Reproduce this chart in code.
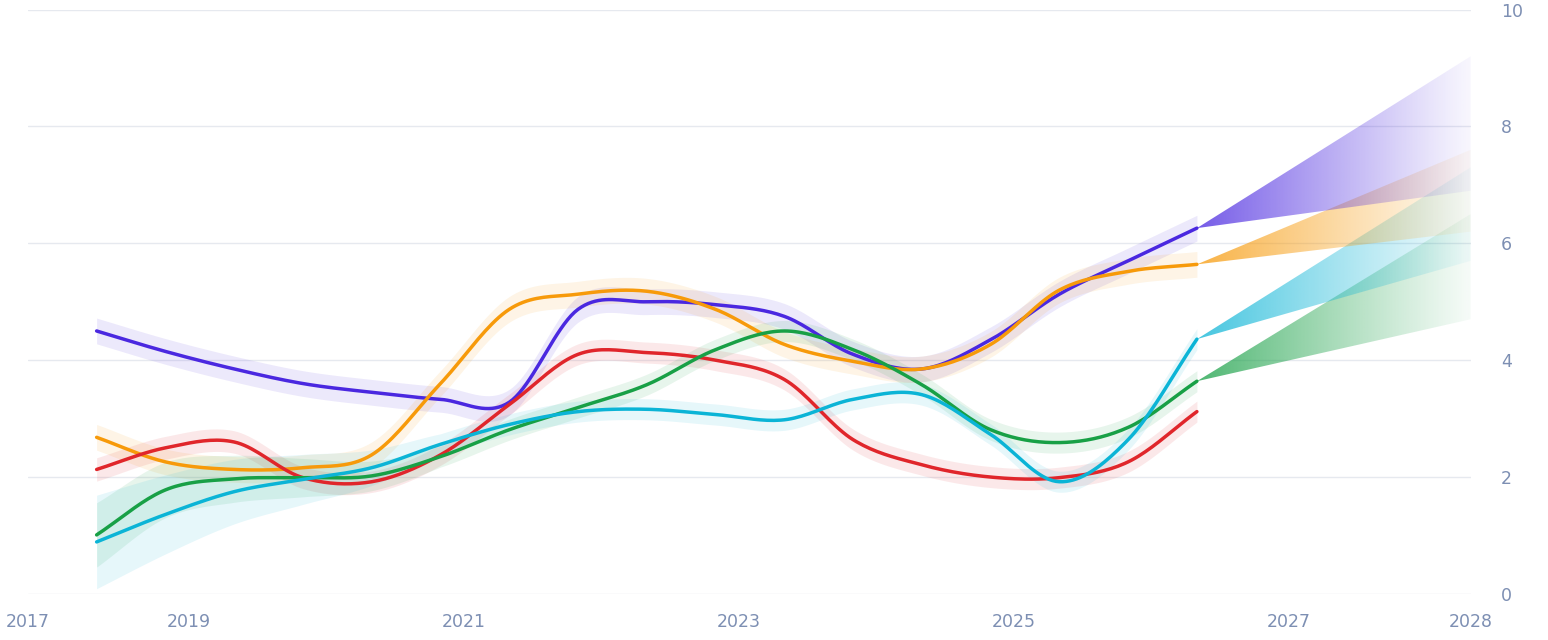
import numpy as np, pandas as pd, seaborn as sns, matplotlib
matplotlib.use("Agg")
import matplotlib.pyplot as plt
from matplotlib.patches import Polygon
from matplotlib.colors import to_rgb

years = [2018.33 + 0.5 * i for i in range(17)]
series = {
    "purple": [4.5,4.15,3.85,3.6,3.45,3.33,3.28,4.87,5.0,4.95,4.75,4.1,3.85,4.35,5.13,5.7,6.26],
    "orange": [2.68,2.26,2.13,2.16,2.38,3.6,4.87,5.13,5.18,4.87,4.27,3.98,3.85,4.27,5.2,5.52,5.64],
    "red":    [2.13,2.5,2.6,1.99,1.92,2.38,3.24,4.1,4.13,4.0,3.67,2.64,2.21,2.0,1.99,2.26,3.12],
    "green":  [1.01,1.78,1.97,1.99,2.02,2.35,2.81,3.19,3.58,4.18,4.5,4.18,3.58,2.81,2.59,2.85,3.64],
    "cyan":   [0.89,1.36,1.75,1.96,2.16,2.56,2.9,3.12,3.16,3.07,2.98,3.33,3.41,2.73,1.92,2.64,4.36],
}
colors = {"purple":"#4a28e0","orange":"#f79a0a","red":"#e0262b","green":"#18a046","cyan":"#0bb4d6"}
band_start = {"purple":0.25,"orange":0.2,"red":0.2,"green":0.55,"cyan":0.8}
fc_end = 2028.32
fc_hi = {"purple":9.2,"orange":7.6,"cyan":7.3,"green":6.5}
fc_lo = {"purple":6.9,"orange":6.2,"cyan":5.7,"green":4.7}

def spline(x, y, n=20):
    x = np.asarray(x); y = np.asarray(y)
    xs, ys = [], []
    m = np.gradient(y, x)
    for i in range(len(x)-1):
        h = x[i+1]-x[i]
        t = np.linspace(0, 1, n, endpoint=False)
        h00=2*t**3-3*t**2+1; h10=t**3-2*t**2+t; h01=-2*t**3+3*t**2; h11=t**3-t**2
        xs.append(x[i]+t*h); ys.append(h00*y[i]+h10*h*m[i]+h01*y[i+1]+h11*h*m[i+1])
    xs.append([x[-1]]); ys.append([y[-1]])
    return np.concatenate(xs), np.concatenate(ys)

sns.set_theme(style="white")
fig, ax = plt.subplots(figsize=(15.48, 6.4), dpi=100)
fig.subplots_adjust(left=0.018, right=0.95, top=0.985, bottom=0.072)
xmin, xmax = 2017.83, fc_end
ax.set_xlim(xmin, xmax); ax.set_ylim(0, 10)

rows = []
for k, v in series.items():
    xs, ys = spline(years, v)
    w = band_start[k] + (0.18 - band_start[k]) * np.clip((xs - years[0]) / 2.5, 0, 1)
    if k in ("purple", "orange"):
        w = np.full_like(xs, 0.22)
    ax.fill_between(xs, ys - w, ys + w, color=colors[k], alpha=0.1, lw=0)
    rows.append(pd.DataFrame({"x": xs, "y": ys, "s": k}))
df = pd.concat(rows)
sns.lineplot(data=df, x="x", y="y", hue="s", palette=colors, lw=2.5, legend=False, ax=ax, sort=False, estimator=None)

x0 = years[-1]
for k in ["green", "cyan", "orange", "purple"]:
    y0 = series[k][-1]
    poly = Polygon([(x0, y0), (fc_end, fc_hi[k]), (fc_end, fc_lo[k])], closed=True,
                   facecolor="none", edgecolor="none", transform=ax.transData)
    ax.add_patch(poly)
    f = np.linspace(0, 1, 256)
    img = np.zeros((2, 256, 4))
    img[..., :3] = to_rgb(colors[k])
    img[..., 3] = 0.72 * (1 - f) ** 1.1 + 0.04
    im = ax.imshow(img, extent=[x0, fc_end, 0, 10], aspect="auto", origin="lower",
                   interpolation="bilinear", zorder=1)
    im.set_clip_path(poly)

ax.set_xticks([xmin, 2019, 2021, 2023, 2025, 2027, xmax])
ax.set_xticklabels(["2017", "2019", "2021", "2023", "2025", "2027", "2028"])
ax.yaxis.tick_right()
ax.set_yticks([0, 2, 4, 6, 8, 10])
ax.tick_params(colors="#7d8fb3", labelsize=12.5, length=0)
ax.tick_params(axis="x", pad=14)
ax.tick_params(axis="y", pad=22)
ax.grid(axis="y", color="#e6e9ef", lw=1)
for s in ax.spines.values():
    s.set_visible(False)
ax.set_xlabel(""); ax.set_ylabel("")
fig.savefig("out.png")
